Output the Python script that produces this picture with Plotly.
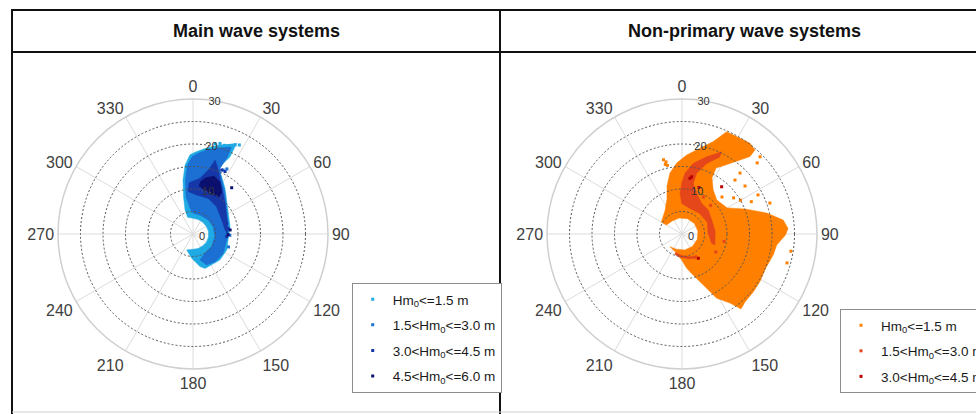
import plotly.graph_objects as go

W, H = 976, 414

# ---------------- DATA (theta: compass deg, clockwise from N; r) ----------------
# Main wave systems - outlines of the dense point clouds, per Hm0 class
main_c1_theta = [25.7, 25.6, 23.2, 21.6, 26.6, 35.0, 44.7, 59.6, 78.8, 94.4, 115.4, 133.9, 148.9, 160.7,
                 167.9, 183.1, 201.5, 180, 160, 140, 120, 100, 80, 60, 40, 20, 0, 342, 341.6, 345.7,
                 349.5, 353.4, 357.8, 1.5, 8.0, 16.9]
main_c1_r = [22.4, 19.0, 17.1, 15.3, 14.2, 12.4, 10.6, 9.1, 8.4, 7.9, 8.3, 8.3, 8.0, 8.1,
             7.4, 5.4, 3.8, 3.4, 3.4, 3.4, 3.5, 3.5, 3.5, 3.4, 3.4, 3.4, 3.5, 3.9, 5.6, 8.55,
             12.2, 15.4, 17.6, 18.2, 19.2, 20.7]
main_c2_theta = [16.4, 23.9, 24.0, 22.3, 28.0, 38.2, 54.5, 78.3, 100.1, 122.5, 141.5, 156.2, 164.9,
                 148.1, 124.2, 97.0, 70.2, 47.5, 20.2, 0.8, 353.3, 349.4, 352.1, 355.4, 359.5, 3.8, 10.2]
main_c2_r = [19.9, 21.2, 18.4, 15.8, 13.6, 11.5, 9.2, 8.0, 7.6, 8.0, 7.9, 7.5, 6.0,
             5.0, 5.0, 4.9, 4.8, 4.6, 4.5, 4.6, 5.8, 8.4, 12.1, 15.4, 17.2, 18.0, 19.1]
main_c3_theta = [16.6, 21.6, 31.2, 46.2, 67.8, 91.6, 82.9, 64.0, 41.0, 23.2, 5.4, 353.5, 355.6, 7.2, 13.4]
main_c3_r = [17.2, 15.3, 12.3, 9.9, 8.2, 7.8, 7.2, 7.1, 8.0, 8.6, 8.7, 9.5, 11.4, 12.5, 14.6]
main_c4_theta = [12.1, 19.9, 27.4, 34.6, 35.1, 25.4, 14.0, 7.1, 8.6]
main_c4_r = [12.7, 13.7, 13.0, 11.3, 10.0, 9.8, 10.1, 10.8, 11.9]

# Main wave systems - isolated points
main_p1_theta = [13.7, 16.6, 23.7, 25.3, 27.5, 19.5]
main_p1_r = [20.6, 21.0, 21.4, 21.9, 22.3, 20.9]
main_p2_theta = [25.3, 27.5, 92.0, 110.0]
main_p2_r = [15.7, 16.3, 8.2, 8.4]
main_p3_theta = [24.2, 27.2, 80.8, 72.4, 94.6]
main_p3_r = [15.6, 15.6, 7.9, 7.9, 7.5]
main_p4_theta = [39.9, 83.8, 91.1]
main_p4_r = [13.4, 8.3, 7.8]

# Non-primary wave systems - outlines
np_c1_theta = [342.1, 348.8, 355.7, 3.4, 11.9, 18.7, 23.6, 31.2, 36.9, 41.0, 41.3, 38.1, 30.5, 27.3,
               28.2, 35.2, 45.8, 60.0, 68.4, 76.1, 82.1, 87.0, 90.5, 96.6, 103.0, 112.0, 121.4, 128.9,
               137.2, 141.8, 145.2, 151.6, 157.3, 164.6, 172.2, 180.7, 201.6, 223.4, 200, 170, 140,
               110, 80, 50, 20, 350, 325, 300, 300, 324.7, 335.8]
np_c1_r = [11.0, 13.8, 15.8, 17.6, 19.5, 21.7, 24.8, 24.9, 25.2, 24.7, 22.9, 20.9, 17.5, 16.5,
           14.1, 12.0, 10.8, 11.6, 15.1, 19.4, 22.7, 23.6, 23.0, 21.2, 20.8, 20.1, 20.3, 20.4,
           20.6, 21.2, 18.7, 16.2, 12.3, 9.5, 7.7, 5.8, 4.2, 3.9, 3.6, 3.6, 3.6,
           3.6, 3.6, 3.6, 3.6, 3.6, 3.6, 4.0, 5.3, 6.5, 8.3]
np_c2_theta = [25.8, 17.7, 9.1, 2.8, 359.7, 357.2, 359.4, 15, 40, 65, 88.5, 107.4,
               108.4, 86.0, 64.8, 47.6, 32.7, 19.9, 12.6, 13.6, 19.3, 26.2,
               None, 200, 180, 160, 145, 150, 165, 185, 200]
np_c2_r = [20.3, 18.0, 15.9, 13.5, 11.3, 9.1, 6.8, 6.0, 6.0, 6.2, 5.8, 6.9,
           7.7, 7.4, 7.3, 7.9, 8.1, 9.6, 11.5, 13.9, 16.6, 19.1,
           None, 4.4, 4.8, 5.4, 5.8, 6.3, 5.7, 5.2, 4.8]

# Non-primary wave systems - isolated points
np_p1_theta = [347.5, 346.0, 348.0, 346.5, 44.5, 52.7, 47.2, 62.8, 70.6, 43.6, 46.6, 45.3, 105.4, 99.0,
               60.0, 55.0, 65.0]
np_p1_r = [16.4, 17.0, 15.6, 15.9, 16.8, 17.6, 12.1, 19.0, 20.7, 18.7, 23.0, 24.4, 24.2, 24.5,
           15.0, 14.0, 17.0]
np_p2_theta = [30, 45, 100, 118]
np_p2_r = [9.5, 9.0, 9.5, 8.5]
np_p3_theta = [9.6, 40.0, 146.1, 8.2, 20.0]
np_p3_r = [12.9, 13.7, 6.5, 12.5, 11.0]

class_names_main = ["Hm<sub>0</sub>&lt;=1.5 m", "1.5&lt;Hm<sub>0</sub>&lt;=3.0 m",
                    "3.0&lt;Hm<sub>0</sub>&lt;=4.5 m", "4.5&lt;Hm<sub>0</sub>&lt;=6.0 m"]
class_names_np = class_names_main[:3]
panel_titles = ["Main wave systems", "Non-primary wave systems"]

angular_ticks = [0, 30, 60, 90, 120, 150, 180, 210, 240, 270, 300, 330]
radial_label_vals = [0, 10, 20, 30]
radial_grid_vals = [5, 10, 15, 20, 25]
r_max = 30

# ---------------- STYLE ----------------
main_colors = ["#1FAAE4", "#1C6FD3", "#1637A8", "#0B0F6E"]
np_colors = ["#FF8000", "#E5461A", "#B80000"]
FONT = "Arial, Liberation Sans, sans-serif"
RAX_ANGLE = 86  # math convention (deg from east, ccw)

fig = go.Figure()

def poly(theta, r, color, subplot):
    fig.add_trace(go.Scatterpolar(theta=theta, r=r, mode="lines", fill="toself",
                                  fillcolor=color, line=dict(color=color, width=0.5),
                                  subplot=subplot, showlegend=False, hoverinfo="skip"))

def pts(theta, r, color, name, subplot, legend):
    fig.add_trace(go.Scatterpolar(theta=theta, r=r, mode="markers", name=name,
                                  marker=dict(color=color, size=3, symbol="square"),
                                  subplot=subplot, legend=legend, legendgroup=name + subplot))

main_polys = [(main_c1_theta, main_c1_r), (main_c2_theta, main_c2_r),
              (main_c3_theta, main_c3_r), (main_c4_theta, main_c4_r)]
main_pts = [(main_p1_theta, main_p1_r), (main_p2_theta, main_p2_r),
            (main_p3_theta, main_p3_r), (main_p4_theta, main_p4_r)]
for (t, r), c in zip(main_polys, main_colors):
    poly(t, r, c, "polar")
for (t, r), c, n in zip(main_pts, main_colors, class_names_main):
    pts(t, r, c, n, "polar", "legend")

np_polys = [(np_c1_theta, np_c1_r), (np_c2_theta, np_c2_r)]
np_pts = [(np_p1_theta, np_p1_r), (np_p2_theta, np_p2_r), (np_p3_theta, np_p3_r)]
for (t, r), c in zip(np_polys, np_colors):
    poly(t, r, c, "polar2")
for (t, r), c, n in zip(np_pts, np_colors, class_names_np):
    pts(t, r, c, n, "polar2", "legend2")

# empty traces so the overlay (grid-on-top) subplots exist
for sp in ["polar3", "polar4"]:
    fig.add_trace(go.Scatterpolar(r=[], theta=[], subplot=sp, showlegend=False, hoverinfo="skip"))

# ---------------- LAYOUT ----------------
R_PX = 135
centers = [(193, 234), (682, 234)]

def dom(cx, cy):
    return dict(x=[(cx - R_PX) / W, (cx + R_PX) / W],
                y=[(H - cy - R_PX) / H, (H - cy + R_PX) / H])

def base_polar(cx, cy):
    return dict(
        domain=dom(cx, cy), bgcolor="white",
        angularaxis=dict(rotation=90, direction="clockwise", tickmode="array",
                         tickvals=angular_ticks, ticktext=[str(a) for a in angular_ticks],
                         showgrid=True, gridcolor="#dcdcdc", gridwidth=1,
                         showline=True, linecolor="#cfcfcf", linewidth=1.5, ticks="",
                         tickfont=dict(size=16, color="#404040", family=FONT)),
        radialaxis=dict(range=[0, r_max], tickmode="array", tickvals=radial_label_vals,
                        ticktext=[str(v) for v in radial_label_vals], showgrid=False,
                        showline=False, ticks="", angle=RAX_ANGLE, tickangle=RAX_ANGLE,
                        layer="above traces",
                        tickfont=dict(size=11, color="#333333", family=FONT)),
    )

def overlay_polar(cx, cy):
    return dict(
        domain=dom(cx, cy), bgcolor="rgba(0,0,0,0)",
        angularaxis=dict(rotation=90, direction="clockwise", showgrid=False, showline=False,
                         showticklabels=False, ticks=""),
        radialaxis=dict(range=[0, r_max], tickmode="array", tickvals=radial_grid_vals,
                        showticklabels=False, showgrid=True, gridcolor="#555555", gridwidth=1,
                        griddash="2px,2px", showline=False, ticks=""),
    )

legend_common = dict(xanchor="left", yanchor="top", bgcolor="white", bordercolor="#8c8c8c",
                     borderwidth=1, font=dict(size=13.5, color="#1a1a1a", family=FONT),
                     tracegroupgap=5, itemsizing="trace")

shapes = []
def hline(y, x0, x1, color="#111111", w=2):
    shapes.append(dict(type="line", xref="paper", yref="paper", x0=x0 / W, x1=x1 / W,
                       y0=1 - y / H, y1=1 - y / H, line=dict(color=color, width=w)))
def vline(x, y0, y1, color="#111111", w=2):
    shapes.append(dict(type="line", xref="paper", yref="paper", x0=x / W, x1=x / W,
                       y0=1 - y0 / H, y1=1 - y1 / H, line=dict(color=color, width=w)))
hline(10, 11, 990)
hline(52, 11, 990)
vline(12, 9, 414)
vline(500, 9, 414)
hline(412, 12, 990, color="#d0d0d0", w=1)

annotations = [
    dict(text="<b>%s</b>" % panel_titles[0], x=256 / W, y=1 - 31 / H, xref="paper", yref="paper",
         xanchor="center", yanchor="middle", showarrow=False,
         font=dict(size=18, color="#111111", family=FONT)),
    dict(text="<b>%s</b>" % panel_titles[1], x=744 / W, y=1 - 31 / H, xref="paper", yref="paper",
         xanchor="center", yanchor="middle", showarrow=False,
         font=dict(size=18, color="#111111", family=FONT)),
]

fig.update_layout(
    width=W, height=H,
    margin=dict(l=0, r=0, t=0, b=0, autoexpand=False),
    paper_bgcolor="white",
    font=dict(family=FONT),
    polar=base_polar(*centers[0]),
    polar2=base_polar(*centers[1]),
    polar3=overlay_polar(*centers[0]),
    polar4=overlay_polar(*centers[1]),
    legend=dict(x=351.7 / W, y=1 - 283 / H, **legend_common),
    legend2=dict(x=840 / W, y=1 - 309 / H, **legend_common),
    shapes=shapes,
    annotations=annotations,
    showlegend=True,
)

fig.write_html("out.html", config={"displayModeBar": False},
               post_script="document.body.style.margin='0px';")
